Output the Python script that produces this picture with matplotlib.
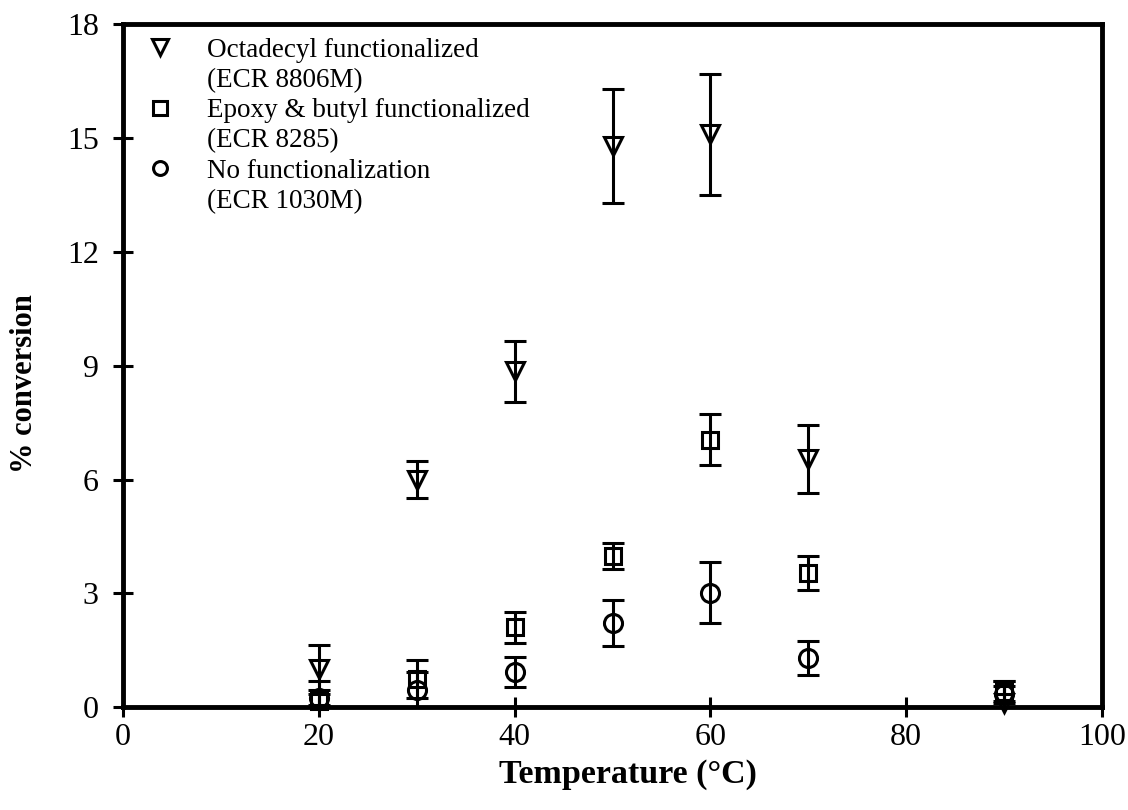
import matplotlib
matplotlib.use("Agg")
import matplotlib.pyplot as plt
from matplotlib.lines import Line2D

plt.rcParams['font.family'] = ['Liberation Serif', 'DejaVu Serif']

temps = [20, 30, 40, 50, 60, 70, 90]

octadecyl = [1.0, 6.0, 8.85, 14.8, 15.1, 6.55, 0.1]
octadecyl_err = [0.65, 0.5, 0.8, 1.5, 1.6, 0.9, 0.6]

epoxy = [0.15, 0.75, 2.1, 3.98, 7.05, 3.53, 0.4]
epoxy_err = [0.55, 0.5, 0.4, 0.35, 0.67, 0.45, 0.3]

nofunc = [0.25, 0.45, 0.92, 2.22, 3.02, 1.3, 0.35]
nofunc_err = [0.2, 0.48, 0.4, 0.6, 0.8, 0.45, 0.2]

names = ["Octadecyl functionalized", "Epoxy & butyl functionalized",
         "No functionalization"]
grades = ["(ECR 8806M)", "(ECR 8285)", "(ECR 1030M)"]

fig = plt.figure(figsize=(11.28, 8.10), dpi=100)
ax = fig.add_axes([0.109, 0.127, 0.868, 0.843])

series = [(octadecyl, octadecyl_err, 'v', 13, 11),
          (epoxy, epoxy_err, 's', 12, 9.5),
          (nofunc, nofunc_err, 'o', 13, 10)]

handles = []
for (vals, errs, mk, ms, lms), name, grade in zip(series, names, grades):
    # error bars stay inside the axes, markers may sit on the axis line
    ax.errorbar(temps, vals, yerr=errs, fmt='none', ecolor='black',
                elinewidth=2.2, capsize=8, capthick=2.2, zorder=3)
    ax.plot(temps, vals, ls='none', marker=mk, ms=ms, mfc='none', mec='black',
            mew=2.2, clip_on=False, zorder=4)
    handles.append(Line2D([], [], ls='none', marker=mk, ms=lms, mfc='none',
                          mec='black', mew=2.2, label=name))
    handles.append(Line2D([], [], ls='none', marker=None, label=grade))

ax.set_xlim(0, 100)
ax.set_ylim(0, 18)
ax.set_xticks(range(0, 101, 20))
ax.set_yticks(range(0, 19, 3))

for s in ax.spines.values():
    s.set_linewidth(3.5)
    s.set_zorder(5)
ax.tick_params(direction='inout', length=15, width=2.2, labelsize=23)
ax.tick_params(axis='x', pad=4)
ax.tick_params(axis='y', pad=10)

ax.set_xlabel("Temperature (°C)", fontsize=24.5, fontweight='bold')
ax.set_ylabel("% conversion", fontsize=22, fontweight='bold')
ax.xaxis.set_label_coords(0.516, -0.076)
ax.yaxis.set_label_coords(-0.086, 0.474)

leg = ax.legend(handles=handles, loc='upper left', frameon=False, fontsize=19.5,
                handlelength=1.0, handletextpad=1.24, labelspacing=0.19,
                borderpad=0.0, borderaxespad=0.0,
                bbox_to_anchor=(0.024, 0.980))

fig.savefig("out.png", dpi=100)
